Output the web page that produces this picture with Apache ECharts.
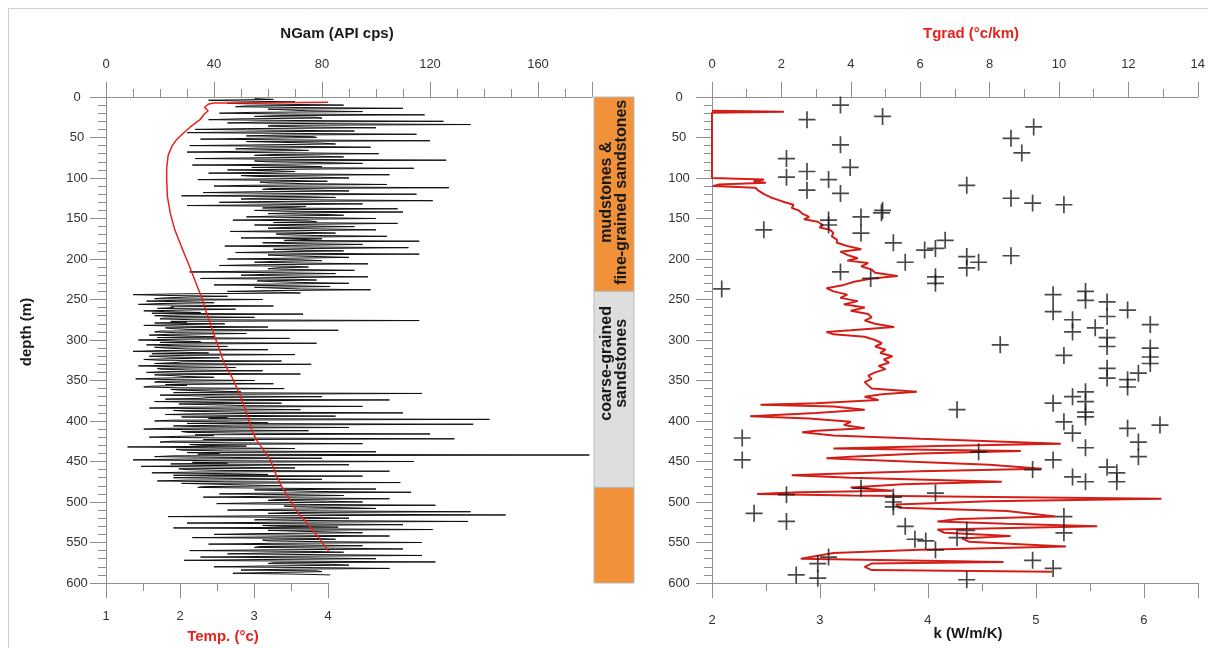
<!DOCTYPE html>
<html>
<head>
<meta charset="utf-8">
<title>NGam / Tgrad well logs</title>
<script src="https://cdn.jsdelivr.net/npm/echarts@6/dist/echarts.min.js"></script>
<style>
  html, body { margin: 0; padding: 0; background: #fff; }
  #chart { width: 1208px; height: 648px; }
</style>
</head>
<body>
<div id="chart"></div>
<script>
// natural gamma log (API cps), one reading per metre starting at 2 m
var ngamStart = 2, ngamStep = 1;
var ngam = [
  55, 62, 38, 50, 70, 58, 45, 66, 88, 52,   48, 72, 110, 60, 60, 75, 95, 54, 42, 68,
  118, 63, 55, 78, 80, 49, 38, 70, 125, 57,  45, 82, 135, 61, 60, 74, 100, 52, 33, 66,
  92, 58, 30, 71, 115, 64, 52, 77, 78, 55,   35, 69, 120, 52, 65, 80, 85, 60, 31, 73,
  98, 56, 48, 67, 75, 51, 30, 72, 101, 62,   55, 78, 88, 59, 33, 70, 126, 55, 60, 81,
  95, 63, 32, 69, 80, 54, 114, 76, 45, 61,   70, 58, 38, 73, 105, 50, 55, 79, 90, 62,
  34, 68, 82, 57, 60, 74, 104, 53, 40, 70,   127, 61, 58, 77, 90, 55, 36, 69, 115, 63,
  28, 72, 85, 56, 50, 79, 121, 60, 42, 68,   95, 64, 30, 74, 70, 58, 108, 71, 55, 66,
  110, 72, 60, 81, 88, 63, 52, 77, 100, 68,  47, 75, 78, 62, 108, 80, 55, 70, 92, 66,
  60, 82, 100, 69, 46, 74, 85, 63, 65, 78,   104, 70, 50, 80, 80, 66, 116, 75, 58, 69,
  95, 73, 44, 66, 112, 78, 62, 71, 88, 64,   48, 76, 116, 60, 66, 79, 90, 68, 45, 72,
  80, 62, 55, 74, 97, 58, 42, 70, 75, 63,    60, 71, 92, 55, 31, 66, 85, 59, 50, 69,
  97, 62, 35, 70, 78, 56, 62, 73, 90, 60,    40, 67, 83, 55, 55, 72, 98, 61, 45, 64,
  // coarse-grained sandstones
  72, 28, 10, 22, 45, 30, 22, 18, 58, 26,    15, 32, 40, 20, 12, 27, 62, 24, 25, 19,
  48, 30, 14, 22, 35, 17, 73, 28, 18, 25,    55, 21, 20, 33, 116, 24, 30, 18, 44, 27,
  14, 29, 60, 22, 25, 31, 86, 20, 18, 26,    52, 23, 16, 30, 40, 19, 68, 27, 12, 24,
  35, 20, 78, 28, 15, 25, 45, 18, 22, 30,    60, 21, 10, 27, 38, 17, 70, 29, 16, 23,
  42, 26, 14, 20, 65, 28, 25, 18, 76, 24,    12, 27, 48, 19, 20, 31, 58, 22, 15, 26,
  72, 18, 25, 29, 40, 21, 11, 26, 55, 20,    18, 28, 62, 22, 30, 17, 14, 27, 66, 24,
  28, 40, 50, 25, 117, 45, 20, 33, 80, 38,   35, 22, 105, 48, 18, 36, 65, 27, 40, 52,
  95, 30, 16, 44, 72, 25, 30, 50, 110, 35,   22, 46, 85, 28, 45, 38, 142, 24, 18, 42,
  60, 30, 136, 48, 25, 35, 90, 22, 14, 40,   75, 28, 30, 50, 120, 33, 40, 26, 16, 45,
  129, 36, 55, 24, 20, 47, 95, 31, 35, 52,   8, 38, 70, 26, 28, 44, 100, 30, 42, 34,
  179, 25, 18, 46, 80, 29, 10, 40, 114, 32,  45, 24, 90, 37, 13, 48, 70, 27, 30, 43,
  105, 33, 17, 45, 60, 25, 95, 39, 25, 50,   80, 30, 19, 44, 109, 28, 40, 52, 65, 36,
  // lower mudstones
  34, 62, 100, 55, 55, 78, 113, 60, 42, 70,  88, 58, 36, 74, 105, 63, 60, 82, 95, 57,
  41, 75, 122, 66, 70, 88, 100, 61, 45, 79,  135, 68, 60, 84, 148, 59, 23, 72, 90, 64,
  55, 80, 134, 62, 30, 75, 110, 58, 65, 86,  25, 70, 121, 60, 70, 83, 95, 56, 40, 74,
  105, 65, 32, 78, 85, 58, 60, 80, 117, 62,  38, 72, 95, 57, 55, 85, 110, 63, 31, 76,
  88, 60, 45, 79, 117, 65, 35, 74, 100, 58,  29, 70, 122, 62, 60, 84, 90, 59, 40, 77,
  105, 66, 50, 78, 80, 62, 47, 70, 83
];

// temperature profile (deg C)
var tempDepth = [6.5, 7, 7.5, 9, 13, 17, 21, 28, 37, 45, 53, 61, 72, 88, 102, 123, 144, 164, 185, 205,
  226, 247, 267, 288, 309, 329, 349, 370, 390, 411, 423, 432, 448, 469, 480, 498, 514, 531, 547, 561];
var tempValue = [4.0, 3.2, 2.45, 2.38, 2.33, 2.38, 2.33, 2.27, 2.14, 2.04, 1.95, 1.89, 1.84, 1.82, 1.82, 1.83, 1.87, 1.93, 2.02, 2.11,
  2.2, 2.29, 2.36, 2.44, 2.52, 2.6, 2.72, 2.82, 2.9, 2.97, 3.03, 3.1, 3.22, 3.31, 3.37, 3.49, 3.6, 3.76, 3.9, 4.01];

// temperature gradient (deg C / km)
var tgradDepth = [17, 18.2, 19.4, 100, 102, 104, 106, 108, 110, 112, 116, 120, 124, 127, 130, 133, 137, 140, 144, 148,
  151, 154, 158, 161, 164, 168, 172, 176, 180, 184, 188, 191, 195, 199, 202, 205, 209, 213, 217, 221,
  224, 228, 232, 236, 240, 244, 248, 252, 256, 260, 264, 268, 272, 276, 280, 284, 288, 290, 293, 296,
  300, 304, 308, 312, 316, 320, 324, 328, 332, 336, 340, 344, 348, 352, 356, 360, 364, 367, 370, 374,
  378, 380, 382, 386, 390, 394, 397, 401, 405, 409, 412, 414, 418, 422, 428, 431, 434, 437, 440, 444,
  446, 448, 454, 459, 462, 465, 467, 470, 475, 478, 482, 486, 488, 490, 492, 496, 499, 503, 507, 511,
  518, 521, 524, 527, 530, 534, 538, 542, 545, 549, 555, 559, 563, 570, 574, 576, 580, 584, 586];
var tgradValue = [0, 2.07, 0, 0, 1.5, 1.2, 1.55, 0.2, 0.02, 1.25, 1.35, 1.5, 1.7, 1.9, 2.1, 2.35, 2.3, 2.5, 2.6, 2.8,
  2.65, 3.05, 3.2, 3.1, 3.4, 3.5, 3.45, 3.6, 3.6, 3.9, 4.3, 3.7, 3.9, 4.2, 3.9, 4.5, 4.3, 4.6, 4.7, 5.35,
  4.6, 4.1, 3.8, 3.3, 3.5, 3.9, 3.7, 4.2, 3.8, 4.4, 4.0, 4.5, 4.6, 4.4, 4.7, 5.25, 4.0, 3.3, 3.5, 4.4,
  4.7, 4.9, 4.7, 5.0, 4.85, 5.2, 4.95, 5.1, 4.8, 5.0, 4.7, 4.5, 4.6, 4.4, 4.5, 4.6, 5.9, 4.9, 4.4, 4.8,
  3.0, 1.4, 3.5, 4.4, 3.0, 1.1, 2.8, 4.0, 3.8, 4.4, 3.0, 2.6, 3.5, 6.0, 10.05, 6.5, 3.5, 8.9, 6.0, 4.0,
  3.3, 4.5, 8.0, 9.5, 6.0, 3.5, 2.3, 4.0, 8.35, 5.5, 4.0, 5.2, 2.5, 1.3, 4.0, 12.95, 8.0, 5.3, 5.4, 8.5,
  9.9, 7.1, 6.5, 8.5, 11.1, 6.5, 6.7, 8.6, 7.2, 7.4, 10.2, 6.0, 3.5, 2.56, 8.4, 4.6, 4.4, 4.6, 9.8];

// thermal conductivity samples (W/m/K)
var kDepth = [10, 24, 28, 59, 76, 87, 92, 99, 102, 115, 119, 109, 140, 143, 152, 158, 148, 168, 164, 180,
  189, 187, 177, 204, 197, 211, 204, 216, 224, 222, 230, 237, 37, 51, 69, 125, 131, 133, 196, 244,
  265, 240, 251, 253, 271, 263, 275, 290, 285, 297, 308, 281, 310, 321, 329, 341, 349, 358, 335, 347,
  306, 319, 378, 370, 364, 376, 389, 395, 401, 415, 433, 386, 409, 405, 426, 444, 438, 460, 448, 469,
  475, 457, 464, 475, 518, 538, 535, 544, 572, 582, 596, 421, 448, 491, 483, 489, 514, 524, 494, 500,
  506, 530, 546, 548, 559, 568, 576, 594, 590];
var kValue = [3.19, 3.58, 2.88, 3.19, 2.69, 3.28, 2.88, 2.69, 3.08, 2.88, 3.19, 4.36, 3.58, 3.57, 3.08, 3.08, 3.38, 3.38, 2.48, 3.68,
  3.97, 4.07, 4.16, 3.79, 4.36, 4.36, 4.47, 3.19, 3.47, 4.07, 4.07, 2.09, 4.98, 4.77, 4.87, 4.77, 4.97, 5.26, 4.77, 5.16,
  5.16, 5.46, 5.46, 5.66, 5.66, 5.85, 5.34, 5.34, 5.55, 5.66, 5.66, 6.06, 6.06, 6.06, 6.06, 5.95, 5.85, 5.85, 5.66, 5.66,
  4.67, 5.26, 5.16, 5.34, 5.46, 5.46, 5.46, 5.46, 5.26, 5.34, 5.46, 4.27, 5.85, 6.15, 5.95, 5.95, 4.47, 4.97, 5.16, 5.34,
  5.46, 5.66, 5.75, 5.75, 5.26, 5.26, 4.36, 4.27, 4.97, 5.16, 4.36, 2.28, 2.28, 2.69, 3.38, 4.07, 2.39, 2.69, 3.68, 3.68,
  3.68, 3.79, 3.88, 3.98, 4.07, 3.08, 2.98, 2.98, 2.78];

// lithology column
var lithoTop = [0, 240, 482];
var lithoBase = [240, 482, 600];
var lithoName = ['mudstones &\nfine-grained sandstones', 'coarse-grained\nsandstones', ''];

var FONT = '"Liberation Sans", Arial, sans-serif';
var GREY = '#8f8f8f';
var RED = '#e5221c';
var lithoColor = ['#f1923b', '#dedede', '#f1923b'];
var lithoLabelShift = [-2, -26, 0];

var ngamData = ngam.map(function (v, i) { return [v, ngamStart + i * ngamStep]; });
var tempData = tempValue.map(function (v, i) { return [v, tempDepth[i]]; });
var tgradData = tgradValue.map(function (v, i) { return [v, tgradDepth[i]]; });
var kData = kValue.map(function (v, i) { return [v, kDepth[i]]; });
var lithoData = lithoTop.map(function (t, i) { return [t, lithoBase[i]]; });

function tickAxis(grid, position, min, max, interval, minorSplit, margin, tickLen, hideMax) {
  return {
    type: 'value',
    gridIndex: grid,
    position: position,
    min: min,
    max: max,
    interval: interval,
    axisLine: { onZero: false, lineStyle: { color: GREY, width: 1 } },
    axisTick: { length: tickLen, lineStyle: { color: GREY } },
    minorTick: { show: true, splitNumber: minorSplit, length: 8, lineStyle: { color: GREY } },
    splitLine: { show: false },
    axisLabel: { color: '#333', fontSize: 13, fontFamily: FONT, margin: margin, showMaxLabel: !hideMax }
  };
}

function depthAxis(grid, margin) {
  var a = tickAxis(grid, 'left', 0, 600, 50, 5, margin, 16, false);
  a.inverse = true;
  a.axisLabel.align = 'center';
  return a;
}

function hiddenDepth(grid) {
  return { type: 'value', gridIndex: grid, inverse: true, min: 0, max: 600, show: false };
}

function title(text, x, y, color, rot) {
  return {
    type: 'text', x: x, y: y, rotation: rot || 0, silent: true,
    style: { text: text, fill: color, font: 'bold 15px ' + FONT, align: 'center', verticalAlign: 'middle' }
  };
}

var chart = echarts.init(document.getElementById('chart'));
chart.setOption({
  animation: false,
  backgroundColor: '#fff',
  grid: [
    { left: 106, top: 97, width: 486, height: 486 },  // gamma
    { left: 106, top: 97, width: 222, height: 486 },  // temperature
    { left: 594, top: 97, width: 40, height: 486 },   // lithology
    { left: 712, top: 97, width: 490, height: 486 }   // gradient + k
  ],
  xAxis: [
    tickAxis(0, 'top', 0, 180, 40, 4, 26, 15, true),
    tickAxis(1, 'bottom', 1, 4, 1, 2, 27, 15, false),
    { type: 'value', gridIndex: 2, min: 0, max: 1, show: false },
    tickAxis(3, 'top', 0, 14, 2, 2, 26, 15, false),
    tickAxis(3, 'bottom', 2, 6.5, 1, 2, 31, 15, true)
  ],
  yAxis: [
    depthAxis(0, 29),
    hiddenDepth(1),
    hiddenDepth(2),
    depthAxis(3, 33)
  ],
  graphic: [
    { type: 'rect', silent: true, shape: { x: 8.5, y: 8.5, width: 1300, height: 700 },
      style: { fill: 'none', stroke: '#d0d0d0', lineWidth: 1 } },
    title('NGam (API cps)', 337, 34, '#1a1a1a'),
    title('Temp. (°c)', 223, 637, RED),
    title('depth (m)', 27, 332, '#1a1a1a', Math.PI / 2),
    title('Tgrad (°c/km)', 971, 34, RED),
    title('k (W/m/K)', 968, 634, '#1a1a1a')
  ],
  series: [
    {
      name: 'NGam', type: 'line', xAxisIndex: 0, yAxisIndex: 0,
      data: ngamData, symbol: 'none',
      lineStyle: { color: '#111', width: 1 }, z: 2
    },
    {
      name: 'Temp', type: 'line', xAxisIndex: 1, yAxisIndex: 1,
      data: tempData, symbol: 'none',
      lineStyle: { color: RED, width: 1.5 }, z: 3
    },
    {
      name: 'lithology', type: 'custom', xAxisIndex: 2, yAxisIndex: 2,
      data: lithoData, clip: false,
      renderItem: function (params, api) {
        var i = params.dataIndex;
        var p0 = api.coord([0, api.value(0)]);
        var p1 = api.coord([1, api.value(1)]);
        var kids = [{
          type: 'rect',
          shape: { x: p0[0], y: p0[1], width: p1[0] - p0[0], height: p1[1] - p0[1] },
          style: { fill: lithoColor[i], stroke: '#b9b9b9', lineWidth: 1 }
        }];
        if (lithoName[i]) {
          kids.push({
            type: 'text',
            x: (p0[0] + p1[0]) / 2,
            y: (p0[1] + p1[1]) / 2 + lithoLabelShift[i],
            rotation: Math.PI / 2,
            style: {
              text: lithoName[i], fill: '#1a1a1a', font: 'bold 16px ' + FONT,
              align: 'center', verticalAlign: 'middle', lineHeight: 15
            }
          });
        }
        return { type: 'group', children: kids };
      }
    },
    {
      name: 'Tgrad', type: 'line', xAxisIndex: 3, yAxisIndex: 3,
      data: tgradData, symbol: 'none',
      lineStyle: { color: RED, width: 2 }, z: 3
    },
    {
      name: 'Tgrad core', type: 'line', xAxisIndex: 3, yAxisIndex: 3,
      data: tgradData, symbol: 'none',
      lineStyle: { color: '#5a1611', width: 0.5, opacity: 0.45 }, z: 4
    },
    {
      name: 'k', type: 'scatter', xAxisIndex: 4, yAxisIndex: 3,
      data: kData,
      symbol: 'path://M9,0H11V9H20V11H11V20H9V11H0V9H9Z',
      symbolSize: 17,
      itemStyle: { color: '#1a1a1a' }, z: 5
    }
  ]
});
</script>
</body>
</html>
